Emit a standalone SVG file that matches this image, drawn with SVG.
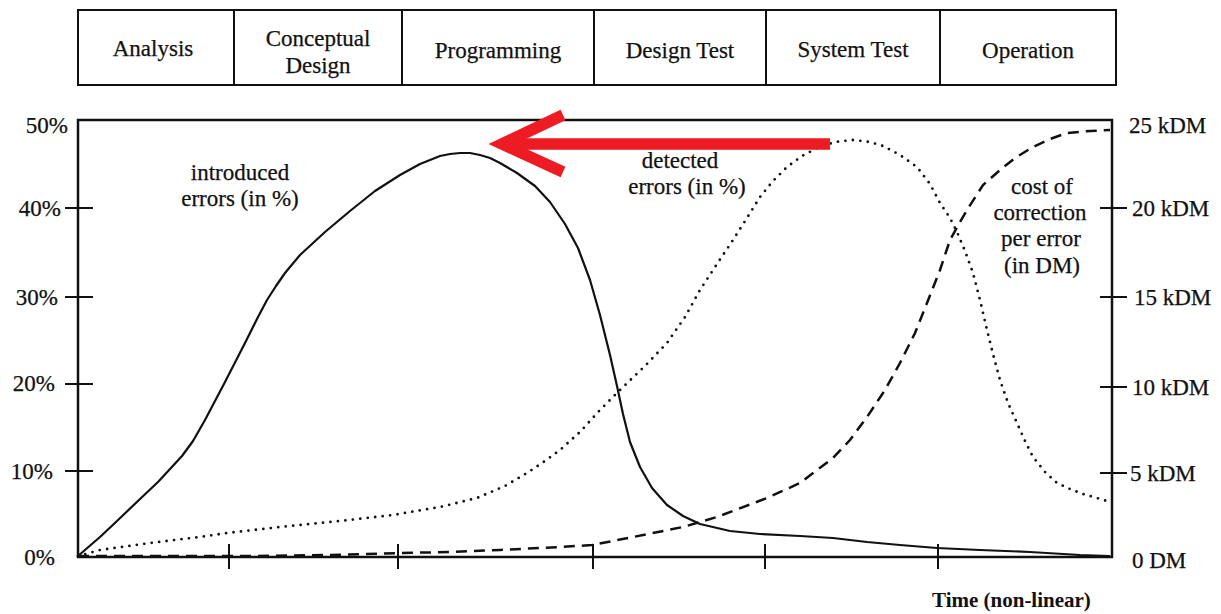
<svg xmlns="http://www.w3.org/2000/svg" width="1221" height="614" viewBox="0 0 1221 614">
<style>
text{font-family:"Liberation Serif","Times New Roman",serif;font-size:23px;fill:#111;stroke:#111;stroke-width:0.25}
.c{text-anchor:middle}
.e{text-anchor:end}
.box{fill:none;stroke:#111;stroke-width:2}
.ax{fill:none;stroke:#111;stroke-width:2.5}
.tk{stroke:#111;stroke-width:2}
.solid{fill:none;stroke:#111;stroke-width:2.2;stroke-linejoin:round}
.dot{fill:none;stroke:#111;stroke-width:2.8;stroke-linecap:round;stroke-dasharray:0 7.5}
.dash{fill:none;stroke:#111;stroke-width:2.5;stroke-dasharray:11 7}
.red{fill:none;stroke:#ed1c24;stroke-width:11.5}
</style>
<rect width="1221" height="614" fill="#fff"/>
<g id="phases">
<g id="phase-analysis"><rect class="box" x="78" y="10" width="156" height="75"/><text class="c" x="153" y="56">Analysis</text></g>
<g id="phase-conceptual"><rect class="box" x="234" y="10" width="168" height="75"/><text class="c" x="318" y="46">Conceptual</text><text class="c" x="318" y="73">Design</text></g>
<g id="phase-programming"><rect class="box" x="402" y="10" width="192" height="75"/><text class="c" x="498" y="58">Programming</text></g>
<g id="phase-designtest"><rect class="box" x="594" y="10" width="172" height="75"/><text class="c" x="680" y="58">Design Test</text></g>
<g id="phase-systemtest"><rect class="box" x="766" y="10" width="174" height="75"/><text class="c" x="853" y="57">System Test</text></g>
<g id="phase-operation"><rect class="box" x="940" y="10" width="176" height="75"/><text class="c" x="1028" y="58">Operation</text></g>
</g>
<g id="axes">
<path class="ax" d="M78,120 L1112,120 L1112,557 L78,557 Z"/>
<path class="tk" d="M65,208H93M65,297H93M65,384H93M65,471H93M1100,208H1127M1100,297H1127M1100,387H1127M1100,473H1127M229,544V569M398,544V569M593,544V569M765,544V569M938,544V569"/>
</g>
<g id="left-labels">
<text class="e" x="68" y="133">50%</text>
<text class="e" x="61" y="216">40%</text>
<text class="e" x="58" y="305">30%</text>
<text class="e" x="55" y="391">20%</text>
<text class="e" x="53" y="479">10%</text>
<text class="e" x="55" y="565">0%</text>
</g>
<g id="right-labels">
<text x="1129" y="133">25 kDM</text>
<text x="1132" y="216">20 kDM</text>
<text x="1134" y="305">15 kDM</text>
<text x="1132" y="395">10 kDM</text>
<text x="1130" y="481">5 kDM</text>
<text x="1132" y="568">0 DM</text>
</g>
<g id="introduced-errors">
<polyline class="solid" points="78,556 100,537 117,521 140,499 158,482 170,469 182,456 193,441 205,420 225,382 245,343 258,317 267,300 276,286 285,273 300,255 325,232 350,211 375,191 400,175 420,164 440,156 450,154 460,153 470,153 480,155 490,158 500,163 517,173 535,186 550,202 565,224 578,248 590,280 600,315 610,355 617,386 623,414 630,442 640,467 652,488 667,505 683,516 700,524 730,531 760,534 800,536 833,538 867,542 900,545 937,548 980,550 1030,552 1080,555 1110,556"/>
<text class="c" x="240" y="180">introduced</text>
<text class="c" x="240" y="206">errors  (in %)</text>
</g>
<g id="detected-errors">
<polyline class="dot" points="78,556 100,550 150,543 200,537 227,533 280,527 340,521 393,515 440,507 477,498 505,486 527,473 545,461 560,450 580,432 600,410 620,390 645,366 667,343 685,317 700,290 717,264 733,240 747,218 760,197 773,181 787,167 802,156 817,148 835,142 853,140 870,142 883,146 900,155 917,167 930,184 940,203 950,218 957,232 965,251 973,273 980,300 987,330 994,358 1000,380 1008,403 1017,423 1025,441 1033,457 1045,472 1057,483 1070,489 1083,494 1097,498 1110,502"/>
<text class="c" x="680" y="168">detected</text>
<text class="c" x="687" y="194">errors  (in %)</text>
</g>
<g id="cost-of-correction">
<polyline class="dash" points="78,556 150,556 250,556 330,555 400,553 450,552 500,550 560,547 592,545 633,537 683,527 717,517 767,498 800,483 833,458 850,440 867,417 885,390 900,363 915,333 927,303 940,270 950,240 960,222 967,210 983,185 1000,170 1015,158 1033,147 1050,139 1067,133 1090,131 1110,130"/>
<text class="c" x="1042" y="194">cost of</text>
<text class="c" x="1040" y="220">correction</text>
<text class="c" x="1041" y="246">per error</text>
<text class="c" x="1042" y="273">(in DM)</text>
</g>
<g id="time-label">
<text x="932" y="607" style="font-weight:bold;font-size:21px;stroke-width:0">Time (non-linear)</text>
</g>
<g id="connectors">
<path class="red" d="M830,144 L510,144"/>
<path class="red" d="M563,115 L502,144 L563,172" stroke-linejoin="miter" stroke-miterlimit="10"/>
</g>
</svg>
